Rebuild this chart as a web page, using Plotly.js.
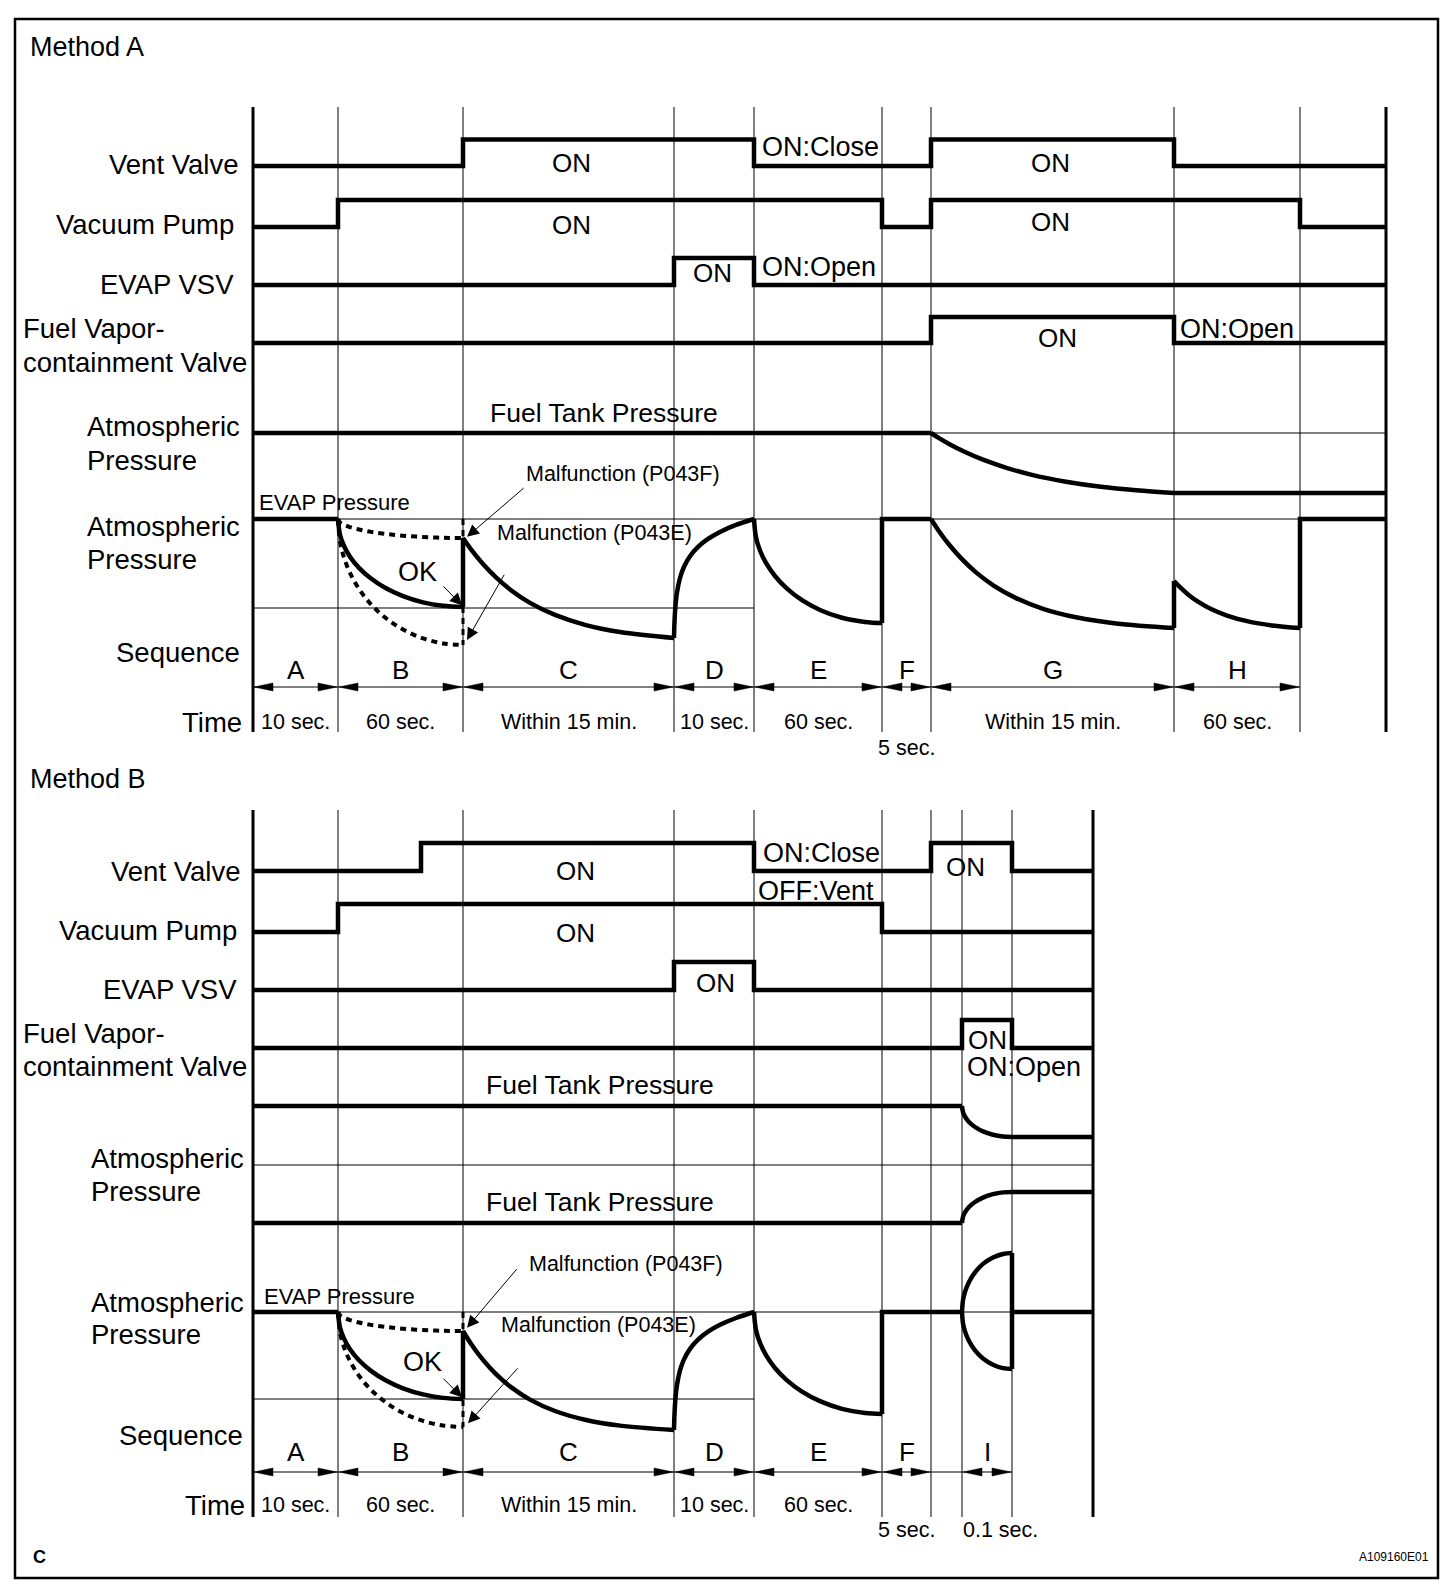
<!DOCTYPE html>
<html><head><meta charset="utf-8">
<script src="https://cdn.plot.ly/plotly-3.0.1.min.js"></script>
<style>html,body{margin:0;padding:0;background:#fff}#chart{width:1456px;height:1594px}</style>
</head><body><div id="chart"></div>
<script>
// ================= DATA =================
// Schematic time marks (diagram units, left axis = 0)
const boundsA = [0, 85, 210, 421, 501, 629, 678, 921, 1047, 1133];
const boundsB = [0, 85, 210, 421, 501, 629, 678, 709, 759, 840];
const seqA = ['A','B','C','D','E','F','G','H'];
const seqB = ['A','B','C','D','E','F','','I'];
const timeA = ['10 sec.','60 sec.','Within 15 min.','10 sec.','60 sec.','5 sec.','Within 15 min.','60 sec.'];
const timeB = ['10 sec.','60 sec.','Within 15 min.','10 sec.','60 sec.','5 sec.','','0.1 sec.'];

// ON/OFF signals: change points (1 = ON)
const ventA_t = [0,210,501,678,921,1133], ventA_v = [0,1,0,1,0,0];
const pumpA_t = [0,85,629,678,1047,1133], pumpA_v = [0,1,0,1,0,0];
const vsvA_t  = [0,421,501,1133],         vsvA_v  = [0,1,0,0];
const fvcvA_t = [0,678,921,1133],         fvcvA_v = [0,1,0,0];
const ventB_t = [0,168,501,678,759,840],  ventB_v = [0,1,0,1,0,0];
const pumpB_t = [0,85,629,840],           pumpB_v = [0,1,0,0];
const vsvB_t  = [0,421,501,840],          vsvB_v  = [0,1,0,0];
const fvcvB_t = [0,709,759,840],          fvcvB_v = [0,1,0,0];

// Fuel tank pressure (0 = atmospheric)
const tankA_X  = [678,686,697,711,730,755,780,813,848,883,921];
const tankA_V  = [0,-0.085,-0.19,-0.308,-0.445,-0.588,-0.702,-0.812,-0.897,-0.955,-1.0];
const tank1B_X = [709,710,712,716,722,730,740,750,759];
const tank1B_V = [1.017,0.91,0.833,0.741,0.655,0.579,0.521,0.49,0.483];
const tank2B_X = [709,710,712,716,722,730,740,750,759];
const tank2B_V = [-1.0,-0.893,-0.816,-0.724,-0.638,-0.562,-0.503,-0.472,-0.466];

// EVAP pressure, Method A (0 = atmospheric, -1 = reference line)
const evapA_BX   = [85,87,91,97,106,118,133,150,170,190,210];          // segment B sample times
const evapA_BokV = [0,-0.176,-0.303,-0.423,-0.549,-0.669,-0.779,-0.867,-0.937,-0.976,-0.989];
const evapA_BfV  = [0,-0.038,-0.065,-0.091,-0.118,-0.145,-0.168,-0.187,-0.202,-0.211,-0.2135]; // P043F
const evapA_BeV  = [0,-0.252,-0.433,-0.605,-0.786,-0.959,-1.115,-1.242,-1.341,-1.398,-1.416]; // P043E
const evapA_CX = [210,219,230,243,258,277,302,332,367,421];
const evapA_CV = [-0.213,-0.356,-0.507,-0.657,-0.8,-0.942,-1.078,-1.189,-1.27,-1.337];
const evapA_DX = [421,421.5,422.5,424,427,431,437,445,455,467,483,501];
const evapA_DV = [-1.337,-1.155,-0.973,-0.826,-0.663,-0.537,-0.418,-0.313,-0.224,-0.145,-0.067,0];
const evapA_EX = [501,503,507,513,522,534,549,567,589,612,629];
const evapA_EV = [0,-0.206,-0.354,-0.494,-0.64,-0.783,-0.912,-1.022,-1.11,-1.157,-1.169];
const evapA_GX = [678,686,696,708,723,741,763,790,823,863,921];
const evapA_GV = [0,-0.137,-0.287,-0.44,-0.6,-0.751,-0.889,-1.009,-1.104,-1.174,-1.225];
const evapA_HX = [921,927,935,945,958,974,994,1019,1047];
const evapA_HV = [-0.697,-0.766,-0.847,-0.929,-1.012,-1.085,-1.148,-1.196,-1.225];

// EVAP pressure, Method B
const evapB_BX   = [85,87,91,97,106,118,133,150,170,190,210];
const evapB_BokV = [0,-0.178,-0.306,-0.428,-0.555,-0.677,-0.788,-0.877,-0.947,-0.987,-1.0];
const evapB_BfV  = [0,-0.039,-0.067,-0.093,-0.121,-0.148,-0.172,-0.192,-0.207,-0.216,-0.218];
const evapB_BeV  = [0,-0.235,-0.405,-0.565,-0.733,-0.895,-1.041,-1.16,-1.252,-1.305,-1.322];
const evapB_CX = [210,219,230,243,258,277,302,332,367,421];
const evapB_CV = [-0.218,-0.382,-0.551,-0.715,-0.864,-1.007,-1.138,-1.238,-1.306,-1.356];
const evapB_DX = [421,421.5,422.5,424,427,431,437,445,455,467,483,501];
const evapB_DV = [-1.356,-1.171,-0.987,-0.838,-0.672,-0.545,-0.424,-0.318,-0.226,-0.147,-0.069,0];
const evapB_EX = [501,503,507,513,522,534,549,567,589,612,629];
const evapB_EV = [0,-0.207,-0.355,-0.495,-0.644,-0.786,-0.915,-1.025,-1.114,-1.162,-1.172];
const evapB_IX  = [709,710,712,716,722,730,740,750,759];
const evapB_IuV = [0,0.135,0.231,0.346,0.456,0.553,0.627,0.667,0.678];
const evapB_IlV = [0,-0.13,-0.223,-0.334,-0.441,-0.534,-0.606,-0.645,-0.655];

// ================= LAYOUT / DRAWING =================
const W = 1456, H = 1594, X0 = 253;
const FONT = 'Liberation Sans, Arial, Helvetica, sans-serif';
// row axes: zero pixel and pixels per unit
const rows = {
  ventA:[166,26.5], pumpA:[227,27], vsvA:[285,27], fvcvA:[343,26], tankA:[433,60], evapA:[519,89], seqA:[687,1],
  ventB:[871,28], pumpB:[932,28], vsvB:[990,28], fvcvB:[1048,28], tankB:[1165,58], evapB:[1312,87], seqB:[1472,1]
};
const layout = {
  width:W, height:H, margin:{l:0,r:0,t:0,b:0,pad:0},
  paper_bgcolor:'#fff', plot_bgcolor:'#fff', showlegend:false,
  font:{family:FONT,color:'#000'},
  xaxis:{range:[-X0, W-X0], domain:[0,1], visible:false, fixedrange:true, showgrid:false, zeroline:false},
  shapes:[], annotations:[]
};
const yid = {};
Object.keys(rows).forEach((n,i)=>{
  const id = i===0 ? 'y' : 'y'+(i+1);
  yid[n] = id;
  const [z,p] = rows[n];
  const ax = {range:[(z-H)/p, z/p], domain:[0,1], visible:false, fixedrange:true, showgrid:false, zeroline:false, anchor:'x'};
  if (i>0) ax.overlaying = 'y';
  layout[i===0 ? 'yaxis' : 'yaxis'+(i+1)] = ax;
});

const traces = [];
function add(x, y, row, o){
  o = o || {};
  const line = {color:'#000', width:o.w||4.5, shape:o.shape||'linear', dash:o.dash||'solid'};
  if (line.shape==='spline') { line.smoothing = 1; line.simplify = false; }
  const t = {type:'scatter', mode:'lines', x:x, y:y, xaxis:'x', yaxis:yid[row], hoverinfo:'skip', cliponaxis:false, line:line};
  if (o.fill){ t.fill='toself'; t.fillcolor='#000'; }
  traces.push(t);
}
function pressurePath(row, start, curves, end){
  let prev = start;
  curves.forEach(([cx,cv])=>{
    add([prev[0],prev[0],cx[0]],[prev[1],cv[0],cv[0]],row);
    add(cx,cv,row,{shape:'spline'});
    prev = [cx[cx.length-1], cv[cv.length-1]];
  });
  if (end) add([prev[0],prev[0],end[0]],[prev[1],end[1],end[1]],row);
}
const px = v => v/W, py = v => 1 - v/H;
function vline(x, top, bot, w){
  layout.shapes.push({type:'line', xref:'x', yref:'paper', x0:x, x1:x, y0:py(top), y1:py(bot), layer:'below', line:{color:'#000', width:w}});
}
function hline(x0, x1, y, row){
  layout.shapes.push({type:'line', xref:'x', yref:yid[row], x0:x0, x1:x1, y0:y, y1:y, layer:'below', line:{color:'#000', width:1}});
}
function atxt(x, y, row, text, size, anchor, extra){
  layout.annotations.push(Object.assign({xref:'x', yref:yid[row], x:x, y:y, text:text, showarrow:false,
    xanchor:anchor||'center', yanchor:'middle', font:{size:size, family:FONT, color:'#000'}}, extra||{}));
}
function ptxt(x, y, text, size, anchor, extra){
  layout.annotations.push(Object.assign({xref:'paper', yref:'paper', x:px(x), y:py(y), text:text, showarrow:false,
    xanchor:anchor||'left', yanchor:'middle', font:{size:size, family:FONT, color:'#000'}}, extra||{}));
}
function pointer(row, tx, tv, hx, hv){
  layout.annotations.push({xref:'x', yref:yid[row], axref:'x', ayref:yid[row], x:hx, y:hv, ax:tx, ay:tv,
    text:'', showarrow:true, arrowhead:2, arrowsize:2.4, arrowwidth:1, arrowcolor:'#000', standoff:0, startstandoff:0});
}
function sequence(bounds, names, times, row, letterY, timeY, shortY, skip){
  add([bounds[0], bounds[8]], [0,0], row, {w:1});
  const AL = 19, AH = 4;
  for (let i=0;i<8;i++){
    if (skip.includes(i)) continue;
    const a = bounds[i], b = bounds[i+1];
    add([a+1, a+1+AL, a+1+AL, a+1], [0, AH, -AH, 0], row, {w:0.5, fill:true});
    add([b-1, b-1-AL, b-1-AL, b-1], [0, AH, -AH, 0], row, {w:0.5, fill:true});
    const c = (a+b)/2;
    if (names[i]) atxt(c, letterY, row, names[i], 26);
    if (times[i]){
      const short = (b-a) < 60;
      atxt(c, short ? shortY : timeY, row, times[i], 21.5, 'center', (i===7 && short) ? {xshift:13} : {});
    }
  }
}

// ---- grid ----
boundsA.forEach((b,i)=> vline(b, 107, 732, (i===0||i===boundsA.length-1) ? 3 : 1));
boundsB.forEach((b,i)=> vline(b, 810, 1517, (i===0||i===boundsB.length-1) ? 3 : 1));
hline(0, boundsA[9], 0, 'tankA'); hline(0, boundsA[9], 0, 'evapA'); hline(0, boundsA[4], -1, 'evapA');
hline(0, boundsB[9], 0, 'tankB'); hline(0, boundsB[9], 0, 'evapB'); hline(0, boundsB[4], -1, 'evapB');
layout.shapes.push({type:'rect', xref:'paper', yref:'paper', x0:px(15), x1:px(1438), y0:py(19), y1:py(1578), line:{color:'#000', width:2.5}, layer:'above'});

const DASH = {shape:'spline', dash:'6px,5px', w:4};

// ---- Method A signals ----
add(ventA_t, ventA_v, 'ventA', {shape:'hv'});
add(pumpA_t, pumpA_v, 'pumpA', {shape:'hv'});
add(vsvA_t, vsvA_v, 'vsvA', {shape:'hv'});
add(fvcvA_t, fvcvA_v, 'fvcvA', {shape:'hv'});
pressurePath('tankA', [0,0], [[tankA_X,tankA_V]], [boundsA[9], tankA_V[tankA_V.length-1]]);
add(evapA_BX, evapA_BfV, 'evapA', DASH);
add(evapA_BX, evapA_BeV, 'evapA', DASH);
add([boundsA[2], boundsA[2]], [0, evapA_BeV[evapA_BeV.length-1]], 'evapA', {dash:'6px,5px', w:3});
pressurePath('evapA', [0,0], [[evapA_BX,evapA_BokV],[evapA_CX,evapA_CV],[evapA_DX,evapA_DV],[evapA_EX,evapA_EV],[evapA_GX,evapA_GV],[evapA_HX,evapA_HV]], [boundsA[9],0]);
sequence(boundsA, seqA, timeA, 'seqA', 17, -35, -61, []);

// ---- Method B signals ----
add(ventB_t, ventB_v, 'ventB', {shape:'hv'});
add(pumpB_t, pumpB_v, 'pumpB', {shape:'hv'});
add(vsvB_t, vsvB_v, 'vsvB', {shape:'hv'});
add(fvcvB_t, fvcvB_v, 'fvcvB', {shape:'hv'});
pressurePath('tankB', [0,tank1B_V[0]], [[tank1B_X,tank1B_V]], [boundsB[9], tank1B_V[tank1B_V.length-1]]);
pressurePath('tankB', [0,tank2B_V[0]], [[tank2B_X,tank2B_V]], [boundsB[9], tank2B_V[tank2B_V.length-1]]);
add(evapB_BX, evapB_BfV, 'evapB', DASH);
add(evapB_BX, evapB_BeV, 'evapB', DASH);
add([boundsB[2], boundsB[2]], [0, evapB_BeV[evapB_BeV.length-1]], 'evapB', {dash:'6px,5px', w:3});
pressurePath('evapB', [0,0], [[evapB_BX,evapB_BokV],[evapB_CX,evapB_CV],[evapB_DX,evapB_DV],[evapB_EX,evapB_EV],[evapB_IX,evapB_IuV]], null);
add(evapB_IX, evapB_IlV, 'evapB', {shape:'spline'});
add([boundsB[8], boundsB[8]], [evapB_IuV[evapB_IuV.length-1], evapB_IlV[evapB_IlV.length-1]], 'evapB');
add([boundsB[8], boundsB[9]], [0, 0], 'evapB');
sequence(boundsB, seqB, timeB, 'seqB', 20, -33, -58, [6]);

// ---- in-chart labels, Method A ----
atxt(318, 0.11, 'ventA', 'ON', 26);
atxt(507, 0.72, 'ventA', 'ON:Close', 27, 'left');
atxt(797, 0.11, 'ventA', 'ON', 26);
atxt(318, 0.07, 'pumpA', 'ON', 26);
atxt(797, 0.19, 'pumpA', 'ON', 26);
atxt(459, 0.44, 'vsvA', 'ON', 26);
atxt(507, 0.67, 'vsvA', 'ON:Open', 27, 'left');
atxt(804, 0.19, 'fvcvA', 'ON', 26);
atxt(925, 0.55, 'fvcvA', 'ON:Open', 27, 'left');
atxt(351, 0.33, 'tankA', 'Fuel Tank Pressure', 26.5);
atxt(4, 0.18, 'evapA', 'EVAP Pressure', 22, 'left');
atxt(164, -0.6, 'evapA', 'OK', 27);
atxt(271, 0.51, 'evapA', 'Malfunction (P043F)', 21.5, 'left');
atxt(242, -0.16, 'evapA', 'Malfunction (P043E)', 21.5, 'left');
pointer('evapA', 189, -0.74, 209, -0.97);
pointer('evapA', 272, 0.36, 214, -0.20);
pointer('evapA', 252, -0.61, 214, -1.36);

// ---- in-chart labels, Method B ----
atxt(322, 0, 'ventB', 'ON', 26);
atxt(508, 0.64, 'ventB', 'ON:Close', 27, 'left');
atxt(503, -0.71, 'ventB', 'OFF:Vent', 27, 'left');
atxt(712, 0.14, 'ventB', 'ON', 26);
atxt(322, -0.04, 'pumpB', 'ON', 26);
atxt(462, 0.25, 'vsvB', 'ON', 26);
atxt(734, 0.29, 'fvcvB', 'ON', 26);
atxt(712, -0.68, 'fvcvB', 'ON:Open', 27, 'left');
atxt(347, 1.38, 'tankB', 'Fuel Tank Pressure', 26.5);
atxt(347, -0.64, 'tankB', 'Fuel Tank Pressure', 26.5);
atxt(9, 0.18, 'evapB', 'EVAP Pressure', 22, 'left');
atxt(169, -0.57, 'evapB', 'OK', 27);
atxt(274, 0.55, 'evapB', 'Malfunction (P043F)', 21.5, 'left');
atxt(246, -0.15, 'evapB', 'Malfunction (P043E)', 21.5, 'left');
pointer('evapB', 189, -0.75, 209, -0.98);
pointer('evapB', 265, 0.51, 214, -0.18);
pointer('evapB', 266, -0.63, 215, -1.28);

// ---- left labels & titles ----
const LS = 27.5;
ptxt(28, 47, 'Method A', 27);
ptxt(240, 164, 'Vent Valve', LS, 'right');
ptxt(236, 224, 'Vacuum Pump', LS, 'right');
ptxt(236, 285, 'EVAP VSV', LS, 'right');
ptxt(21, 328, 'Fuel Vapor-', LS);
ptxt(21, 362, 'containment Valve', LS);
ptxt(85, 427, 'Atmospheric', LS); ptxt(85, 460, 'Pressure', LS);
ptxt(85, 526, 'Atmospheric', LS); ptxt(85, 559, 'Pressure', LS);
ptxt(242, 653, 'Sequence', LS, 'right');
ptxt(244, 722, 'Time', LS, 'right');

ptxt(28, 779, 'Method B', 27);
ptxt(242, 872, 'Vent Valve', LS, 'right');
ptxt(239, 931, 'Vacuum Pump', LS, 'right');
ptxt(239, 990, 'EVAP VSV', LS, 'right');
ptxt(21, 1033, 'Fuel Vapor-', LS);
ptxt(21, 1066, 'containment Valve', LS);
ptxt(89, 1158, 'Atmospheric', LS); ptxt(89, 1191, 'Pressure', LS);
ptxt(89, 1302, 'Atmospheric', LS); ptxt(89, 1334, 'Pressure', LS);
ptxt(245, 1435, 'Sequence', LS, 'right');
ptxt(247, 1505, 'Time', LS, 'right');

ptxt(31, 1557, '<b>C</b>', 18);
ptxt(1431, 1557, 'A109160E01', 12, 'right');

Plotly.newPlot('chart', traces, layout, {staticPlot:true, displayModeBar:false});
</script>
</body></html>
